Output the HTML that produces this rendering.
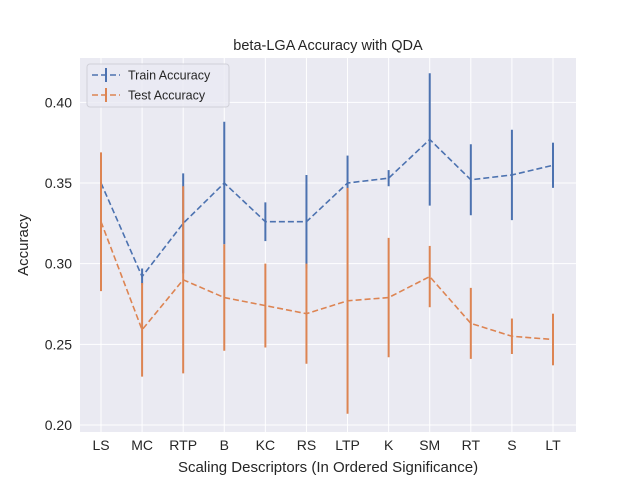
<!DOCTYPE html>
<html><head><meta charset="utf-8"><style>body{margin:0;background:#fff}svg{font-family:"Liberation Sans",sans-serif}</style></head>
<body>
<svg id="chart" width="640" height="480" xmlns="http://www.w3.org/2000/svg"></svg>
<script>
const categories=["LS","MC","RTP","B","KC","RS","LTP","K","SM","RT","S","LT"];
const trainValues=[0.350,0.292,0.325,0.350,0.326,0.326,0.350,0.353,0.377,0.352,0.355,0.361];
const trainErrors=[0.010,0.005,0.031,0.038,0.012,0.029,0.017,0.005,0.041,0.022,0.028,0.014];
const testValues=[0.326,0.259,0.290,0.279,0.274,0.269,0.277,0.279,0.292,0.263,0.255,0.253];
const testErrors=[0.043,0.029,0.058,0.033,0.026,0.031,0.070,0.037,0.019,0.022,0.011,0.016];
const yTicks=[0.20,0.25,0.30,0.35,0.40];
const NS="http://www.w3.org/2000/svg";
const svg=document.getElementById('chart');
const L=80,R=576,T=58,B=432;
const x=i=>101+i*(553-101)/(categories.length-1);
const y=v=>425-(v-0.20)*1613.3;
function el(t,a,p){const e=document.createElementNS(NS,t);for(const k in a)e.setAttribute(k,a[k]);(p||svg).appendChild(e);return e;}
const bg=el('rect',{x:L,y:T,width:R-L,height:B-T,fill:'#eaeaf2'});


yTicks.forEach(v=>{
 const g=el('line',{x1:L,x2:R,y1:y(v),y2:y(v),stroke:'#fff','stroke-width':1});
 
 
 const t=el('text',{x:L-8,y:y(v)+5,'text-anchor':'end','font-size':14,fill:'#262626'});
 t.textContent=v.toFixed(2);
 
 
});
categories.forEach((c,i)=>{
 const g=el('line',{x1:x(i),x2:x(i),y1:T,y2:B,stroke:'#fff','stroke-width':1});
 
 
 const t=el('text',{x:x(i),y:B+18,'text-anchor':'middle','font-size':14,fill:'#262626'});
 t.textContent=c;
 
 
});
function series(vals,errs,color,name){
 errs.forEach((e,i)=>{
  const l=el('line',{x1:x(i),x2:x(i),y1:y(vals[i]-e),y2:y(vals[i]+e),stroke:color,'stroke-width':2});
  
  
 });
 const p=el('polyline',{points:vals.map((v,i)=>x(i)+','+y(v)).join(' '),fill:'none',stroke:color,'stroke-width':1.6,'stroke-dasharray':'6,3'});
 
 
}
series(trainValues,trainErrors,'#4c72b0','train');
series(testValues,testErrors,'#dd8452','test');
const tt=el('text',{x:328,y:50,'text-anchor':'middle','font-size':14.5,fill:'#262626'});
tt.textContent='beta-LGA Accuracy with QDA';


const xt=el('text',{x:328,y:472,'text-anchor':'middle','font-size':15,fill:'#262626'});
xt.textContent='Scaling Descriptors (In Ordered Significance)';


const yt=el('text',{x:28,y:245,'text-anchor':'middle','font-size':15,fill:'#262626',transform:'rotate(-90 28 245)'});
yt.textContent='Accuracy';


const lg=el('g',{});


el('rect',{x:87,y:64,width:142,height:43,rx:3,fill:'#eaeaf2',stroke:'#d0d0d8','fill-opacity':0.8},lg);
[['Train Accuracy','#4c72b0',75],['Test Accuracy','#dd8452',95]].forEach(([n,c,yy])=>{
 el('line',{x1:92,x2:120,y1:yy,y2:yy,stroke:c,'stroke-width':1.6,'stroke-dasharray':'6,3'},lg);
 el('line',{x1:106,x2:106,y1:yy-7,y2:yy+7,stroke:c,'stroke-width':2},lg);
 const t=el('text',{x:128,y:yy+4.5,'font-size':12.5,fill:'#262626'},lg);
 t.textContent=n;
 
 
});
</script>
</body></html>
